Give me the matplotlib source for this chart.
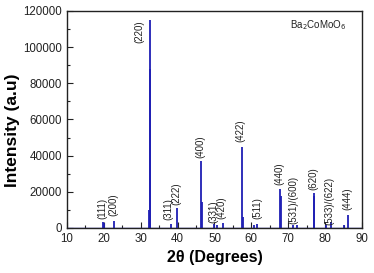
import matplotlib
matplotlib.use("Agg")
import matplotlib.pyplot as plt
from matplotlib.ticker import MultipleLocator

plt.rcParams['font.family'] = ['Liberation Sans', 'DejaVu Sans']

# Peak positions (2theta) and intensities
peak_pos = [19.8, 20.1, 22.7, 32.2, 32.4, 32.55, 38.1, 39.9, 46.4, 46.55, 50.0, 50.7,
            52.3, 57.5, 57.65, 60.6, 61.5, 67.8, 67.95, 71.2, 72.3, 76.9, 77.05, 80.2,
            81.6, 85.1, 86.1]
peak_int = [3300, 2600, 3900, 10000, 115000, 88000, 2400, 10900, 36800, 14500, 2200, 1600,
            2500, 45000, 6300, 1500, 2200, 21600, 17800, 1500, 1600, 19500, 17500, 1800,
            3500, 1500, 7200]

# Miller index labels: text, x (2theta), bottom y
hkl_text = ['(111)', '(200)', '(220)', '(311)', '(222)', '(400)', '(331)', '(420)',
            '(422)', '(511)', '(440)', '(531)/(600)', '(620)', '(533)/(622)', '(444)']
hkl_x = [19.6, 22.6, 29.7, 37.6, 39.8, 46.1, 49.6, 51.9, 57.1, 61.7, 67.6, 71.5,
         76.9, 81.2, 86.0]
hkl_y = [5000, 6800, 102000, 4200, 12700, 38700, 2600, 5000, 47700, 5000, 23800, 2200,
         21000, 1700, 10000]

fig = plt.figure(figsize=(3.74, 2.73), dpi=100)
ax = fig.add_axes([0.179, 0.165, 0.789, 0.795])

ax.vlines(peak_pos, 0, peak_int, color='#1f1fb4', linewidth=1.3)
ax.axhline(0, color='#1f1fb4', linewidth=1.0)

for t, x, y in zip(hkl_text, hkl_x, hkl_y):
    ax.text(x, y, t, rotation=90, ha='center', va='bottom', fontsize=7, color='#222222')

ax.text(70.5, 112000, r'Ba$_2$CoMoO$_6$', fontsize=7, color='#222222', va='center', ha='left')

ax.set_xlim(10, 90)
ax.set_ylim(0, 120000)
ax.xaxis.set_major_locator(MultipleLocator(10))
ax.xaxis.set_minor_locator(MultipleLocator(5))
ax.yaxis.set_major_locator(MultipleLocator(20000))
ax.yaxis.set_minor_locator(MultipleLocator(10000))
ax.tick_params(which='both', direction='in', labelsize=8.3, colors='#222222')
ax.tick_params(which='major', length=4, width=0.8)
ax.tick_params(which='minor', length=2.5, width=0.8)
for s in ax.spines.values():
    s.set_linewidth(1.0)
    s.set_color('#222222')

ax.set_xlabel('2\u03b8 (Degrees)', fontsize=11.5, fontweight='bold', labelpad=4)
ax.set_ylabel('Intensity (a.u)', fontsize=12.5, fontweight='bold', va='center')
ax.yaxis.set_label_coords(-0.185, 0.45)

fig.savefig('out.png', dpi=100)
